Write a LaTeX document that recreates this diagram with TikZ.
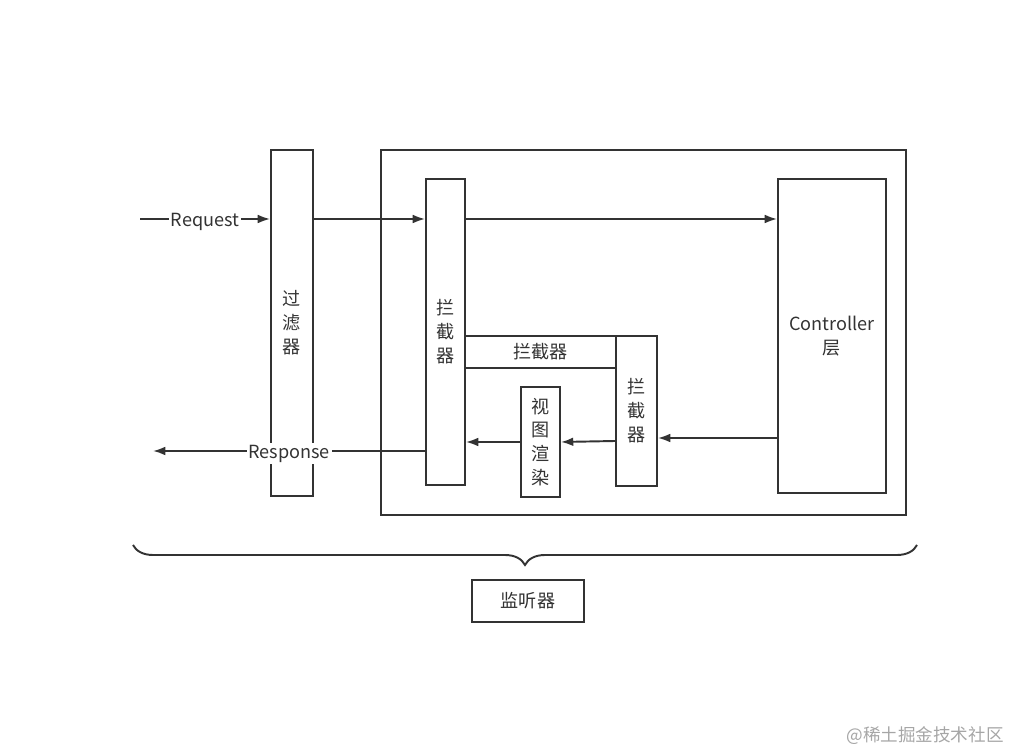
\documentclass[tikz,border=0pt]{standalone}
\usepackage{fontspec}
\setmainfont{Noto Sans CJK SC}
\newfontfamily\cjk{Noto Sans CJK SC}
\usetikzlibrary{
    arrows.meta,
    positioning,
    calc,
    decorations.pathreplacing
}
\definecolor{ink}{HTML}{333333}
\tikzset{
    % --- Tall box with vertical text ---
    block/.style = {
        rectangle, draw=ink, line width=1.1pt,
        inner sep=0pt, align=center, text=ink,
        font=\cjk\fontsize{10.3}{13.6}\selectfont
    },
    % --- Outer frame (plain rectangle) ---
    frame/.style = {
        rectangle, draw=ink, line width=1.1pt, inner sep=0pt
    },
    % --- Label on a wire ---
    signal/.style = {
        font=\cjk\fontsize{10.3}{12}\selectfont, text=ink,
        fill=white, inner sep=1pt, yshift=-0.05cm
    },
    % --- Data flow arrow ---
    data arrow/.style = {
        -{Latex[length=7pt,width=5pt]}, draw=ink, line width=1.1pt
    },
    % --- Watermark text ---
    mark text/.style = {
        font=\cjk\fontsize{10}{12}\selectfont, text=black!35
    }
}

\begin{document}
\begin{tikzpicture}

\useasboundingbox (0,0) rectangle (20.2,-15.02);

% ---------------------------------------------------------
% Boxes
% ---------------------------------------------------------
\node[frame, minimum width=10.5cm, minimum height=7.3cm] (Outer) at (12.87,-6.65) {};
\node[block, minimum width=0.84cm, minimum height=6.92cm] (Filter) at (5.84,-6.46) {过\\滤\\器};
\node[block, minimum width=0.78cm, minimum height=6.12cm] (IntA) at (8.91,-6.64) {拦\\截\\器};
\node[block, minimum width=2.16cm, minimum height=6.28cm] (Ctrl) at (16.64,-6.72) {Controller\\层};
\node[block, minimum width=3.02cm, minimum height=0.64cm] (IntH) at (10.81,-7.04) {拦截器};
\node[block, minimum width=0.82cm, minimum height=3.0cm] (IntB) at (12.73,-8.22) {拦\\截\\器};
\node[block, minimum width=0.78cm, minimum height=2.2cm] (View) at (10.81,-8.84) {视\\图\\渲\\染};

% ---------------------------------------------------------
% Request path (top)
% ---------------------------------------------------------
\coordinate (ReqStart) at (2.8,-4.38);
\draw[data arrow] (ReqStart) -- (Filter.west |- ReqStart)
    node[signal, midway] {Request};
\draw[data arrow] (Filter.east |- ReqStart) -- (IntA.west |- ReqStart);
\draw[data arrow] (IntA.east |- ReqStart) -- (Ctrl.west |- ReqStart);

% ---------------------------------------------------------
% Response path (bottom)
% ---------------------------------------------------------
\draw[data arrow] (Ctrl.west |- 0,-8.76) -- (IntB.east |- 0,-8.76);
\draw[data arrow] (IntB.west |- 0,-8.82) -- (View.east |- 0,-8.84);
\draw[data arrow] (View.west) -- (IntA.east |- View.west);

\coordinate (RespEnd) at (3.06,-9.02);
\draw[data arrow] (IntA.west |- RespEnd) -- (RespEnd)
    node[signal, midway] {Response};

% ---------------------------------------------------------
% Listener
% ---------------------------------------------------------
\coordinate (BraceL) at (2.66,-10.9);
\coordinate (BraceR) at (18.34,-10.9);
\draw[draw=ink, line width=1.1pt,
      decorate, decoration={brace, mirror, amplitude=0.4cm}]
    (BraceL) -- (BraceR);

\node[block, minimum width=2.24cm, minimum height=0.84cm] (Listener) at (10.56,-12.02) {监听器};

% watermark
\node[mark text] (Mark) at (18.5,-14.72) {@稀土掘金技术社区};

\end{tikzpicture}
\end{document}
